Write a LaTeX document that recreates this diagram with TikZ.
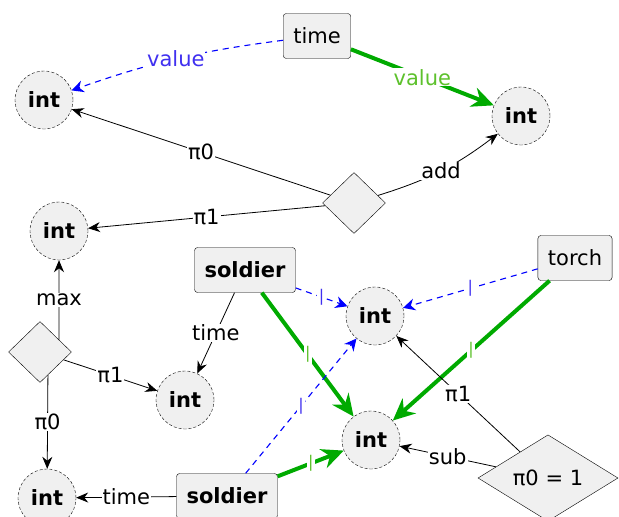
\documentclass[tikz,border=0pt]{standalone}
\usepackage{fontspec}
\setmainfont{DejaVu Sans}
\usepackage{tikz}
\usetikzlibrary{shapes.geometric}
\usetikzlibrary{arrows.meta}
\usetikzlibrary{calc}

\definecolor{nodegray}{HTML}{F0F0F0}
\definecolor{ownsgreen}{HTML}{00AA00}
\definecolor{ownslabel}{HTML}{5DC12C}
\definecolor{refblue}{HTML}{0000FF}
\definecolor{reflabel}{HTML}{4030F0}
\newcommand{\diafont}{\fontsize{21}{25}\selectfont}
\newcommand{\tickfont}{\fontsize{16}{18}\selectfont}

\begin{document}
\begin{tikzpicture}
    [
    x=1pt,y=-1pt,
    inttype/.style={circle,draw,densely dashed,fill=nodegray,font=\diafont\bfseries,minimum size=58pt,inner sep=0pt},
    record/.style={rectangle,draw,rounded corners=3pt,fill=nodegray,font=\diafont,minimum height=45pt,inner xsep=10pt},
    op/.style={diamond,draw,fill=nodegray,inner sep=0pt,font=\diafont},
    lbl/.style={fill=white,inner sep=1pt,font=\diafont},
    tick/.style={fill=white,inner sep=1.5pt,font=\tickfont},
    arr/.style={-{Stealth[length=12pt,width=10pt]},line width=0.8pt},
    ref/.style={-{Stealth[length=12pt,width=12pt]},refblue,line width=1.1pt,dash pattern=on 6pt off 5pt},
    owns/.style={-{Stealth[length=22pt,width=20pt]},ownsgreen,line width=4pt},
    ]
    \useasboundingbox (0,0) rectangle (619,517);

    % value types
    \node (i1) at (44,100) [inttype] {int};
    \node (i2) at (521,116) [inttype] {int};
    \node (i3) at (59,231) [inttype] {int};
    \node (i4) at (185,400) [inttype] {int};
    \node (i5) at (375,316) [inttype] {int};
    \node (i6) at (371,440) [inttype] {int};
    \node (i7) at (47,498) [inttype] {int};

    % records
    \node (tm) at (317,36) [record] {time};
    \node (s1) at (245,270) [record,font=\diafont\bfseries] {soldier};
    \node (s2) at (227,496) [record,font=\diafont\bfseries] {soldier};
    \node (tr) at (575,258) [record] {torch};

    % operators
    \node (d1) at (354,203) [op,minimum width=63pt,minimum height=61pt] {};
    \node (d2) at (40,352) [op,minimum width=63pt,minimum height=61pt] {};
    \node (d3) at (548,478) [op,minimum width=140pt,minimum height=70pt] {π0 = 1};
    \coordinate (d2a) at ($(d2.north)!0.6!(d2.east)$);
    \coordinate (d2b) at ($(d2.south)!0.25!(d2.east)$);

    \draw [ref,bend right=6] (tm) to node[lbl,text=reflabel] {value} (i1);
    \draw [owns] (tm) to node[lbl,text=ownslabel] {value} (i2);

    \draw [arr] (d1) to node[lbl] {π0} (i1);
    \draw [arr,bend right=10] (d1) to node[lbl] {add} (i2);
    \draw [arr] (d1) to node[lbl] {π1} (i3);

    \draw [arr] (d2a) to node[lbl] {max} (i3);
    \draw [arr] (d2) to node[lbl] {π1} (i4);
    \draw [arr] (d2b) to node[lbl] {π0} (i7);

    \draw [arr] (s1) to node[lbl] {time} (i4);
    \draw [ref] (s1) to node[tick,text=reflabel] {|} (i5);
    \draw [owns] (s1) to node[tick,text=ownslabel] {|} (i6);

    \draw [arr] (s2) to node[lbl] {time} (i7);
    \draw [ref] (s2) to node[tick,text=reflabel] {|} (i5);
    \draw [owns] (s2) to node[tick,text=ownslabel] {|} (i6);

    \draw [ref] (tr) to node[tick,text=reflabel] {|} (i5);
    \draw [owns] (tr) to node[tick,text=ownslabel] {|} (i6);

    \draw [arr] (d3) to node[lbl] {π1} (i5);
    \draw [arr] (d3) to node[lbl] {sub} (i6);
\end{tikzpicture}
\end{document}
